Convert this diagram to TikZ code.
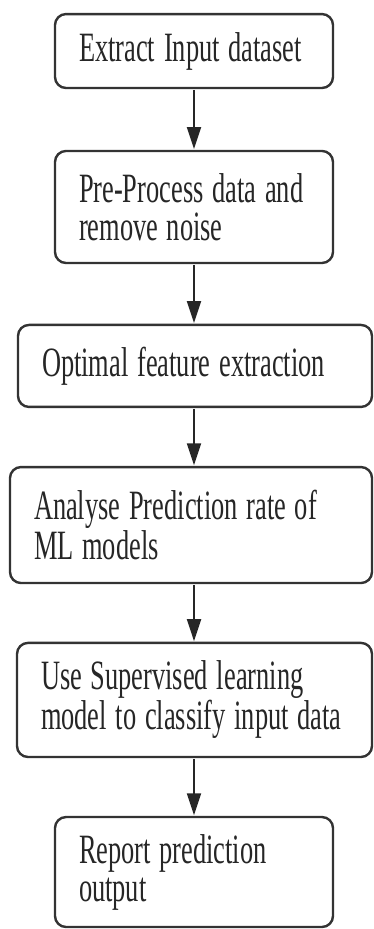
\documentclass[tikz,border=0pt]{standalone}
\usepackage{fontspec}
\setmainfont{Liberation Serif}
\usetikzlibrary{arrows.meta}

\tikzstyle{paso}= [rectangle,draw=black!80,line width=2.4pt,rounded corners=11pt,fill=white,text=black!85,align=left,inner xsep=24pt,inner ysep=0pt,font=\fontsize{26.4}{24}\selectfont]
\tikzstyle{flecha}= [black!85,line width=2pt,-{Triangle[length=22pt,width=14pt]}]

\begin{document}
\begin{tikzpicture}[x=1pt,y=-1pt,yscale=1.58,every node/.style={transform shape}]

		\useasboundingbox (0,0) rectangle (373,587.97);

		\node (a) at (194,32.3) [paso,text width=230pt,minimum height=46.8pt] {Extract Input dataset};

		\node (b) at (194,131) [paso,text width=230pt,minimum height=70.9pt] {Pre-Process data and\\remove noise};

		\node (c) at (195,231.6) [paso,text width=306pt,minimum height=51.9pt] {Optimal feature extraction};

		\node (d) at (191,332.3) [paso,text width=314pt,minimum height=73.4pt] {Analyse Prediction rate of\\ML models};

		\node (e) at (194.5,443) [paso,text width=307pt,minimum height=72.2pt] {Use Supervised learning\\model to classify input data};

		\node (f) at (194,551.9) [paso,text width=230pt,minimum height=69.6pt] {Report prediction\\output};

		\path[flecha] (a.south) edge[] (b.north);
		\path[flecha] (b.south -| a) edge[] (c.north -| a);
		\path[flecha] (c.south -| a) edge[] (d.north -| a);
		\path[flecha] (d.south -| a) edge[] (e.north -| a);
		\path[flecha] (e.south -| a) edge[] (f.north -| a);

	\end{tikzpicture}
\end{document}
